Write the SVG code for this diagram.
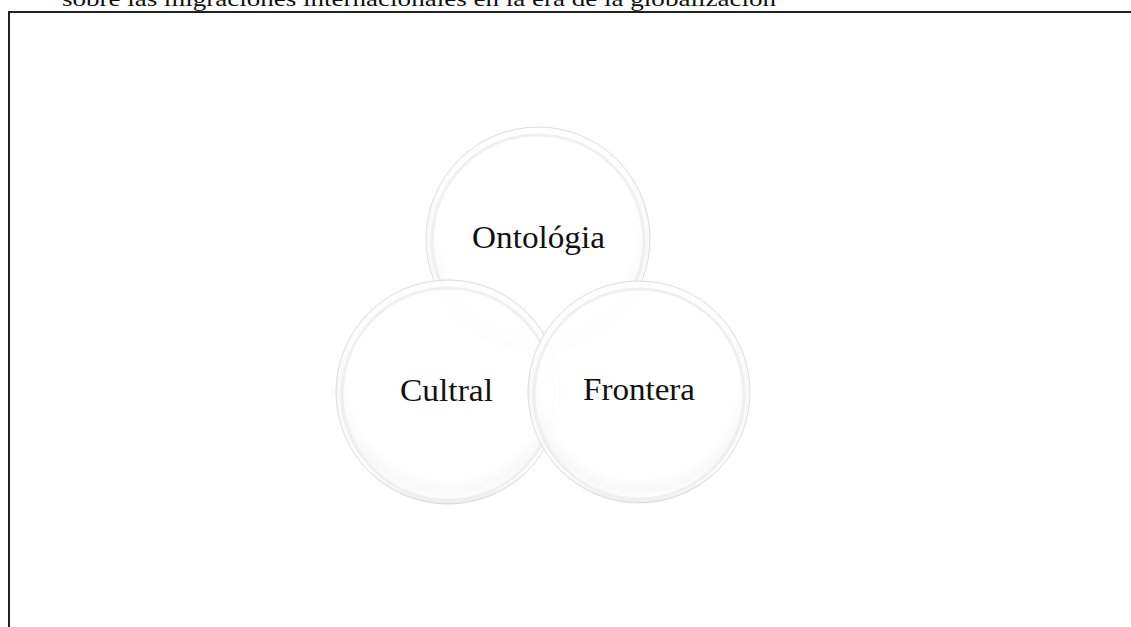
<svg xmlns="http://www.w3.org/2000/svg" width="1131" height="627" viewBox="0 0 1131 627">
  <style>
    .frame { fill: none; stroke: #222; stroke-width: 2; }
    .caption { font-family: "Liberation Serif", serif; font-size: 21px; fill: #111; }
    .bubble { fill: url(#bubbleFill); stroke: #d4d4d4; stroke-width: 1; stroke-opacity: 0.8; }
    .rim { fill: none; stroke: #ececec; stroke-width: 3; opacity: 0.8; }
    .label { font-family: "Liberation Serif", serif; font-size: 31px; fill: #111; text-anchor: middle; }
  </style>
  <defs>
    <radialGradient id="bubbleFill" cx="0.5" cy="0.45" r="0.55">
      <stop offset="0" stop-color="#ffffff" stop-opacity="0.92"/>
      <stop offset="0.8" stop-color="#ffffff" stop-opacity="0.9"/>
      <stop offset="0.9" stop-color="#f7f7f7" stop-opacity="0.9"/>
      <stop offset="0.96" stop-color="#fdfdfd" stop-opacity="0.9"/>
      <stop offset="1" stop-color="#e4e4e4" stop-opacity="0.9"/>
    </radialGradient>
  </defs>
  <rect width="1131" height="627" fill="#ffffff"/>
  <text class="caption" x="62" y="6" textLength="714" lengthAdjust="spacingAndGlyphs">sobre las migraciones internacionales en la era de la globalización</text>
  <path class="frame" d="M9 627 V12 H1131"/>
  <g id="node-ontologia">
    <circle class="bubble" cx="538" cy="239" r="112"/>
    <circle class="rim" cx="538" cy="241" r="106"/>
  </g>
  <g id="node-cultral">
    <circle class="bubble" cx="448" cy="392" r="112"/>
    <circle class="rim" cx="448" cy="394" r="106"/>
  </g>
  <g id="node-frontera">
    <circle class="bubble" cx="639" cy="392" r="111"/>
    <circle class="rim" cx="639" cy="394" r="105"/>
  </g>
  <g id="labels">
    <text class="label" x="538.5" y="248" textLength="133" lengthAdjust="spacingAndGlyphs">Ontológia</text>
    <text class="label" x="446.5" y="401" textLength="93" lengthAdjust="spacingAndGlyphs">Cultral</text>
    <text class="label" x="639" y="400" textLength="112" lengthAdjust="spacingAndGlyphs">Frontera</text>
  </g>
  <g id="connectors"/>
</svg>
